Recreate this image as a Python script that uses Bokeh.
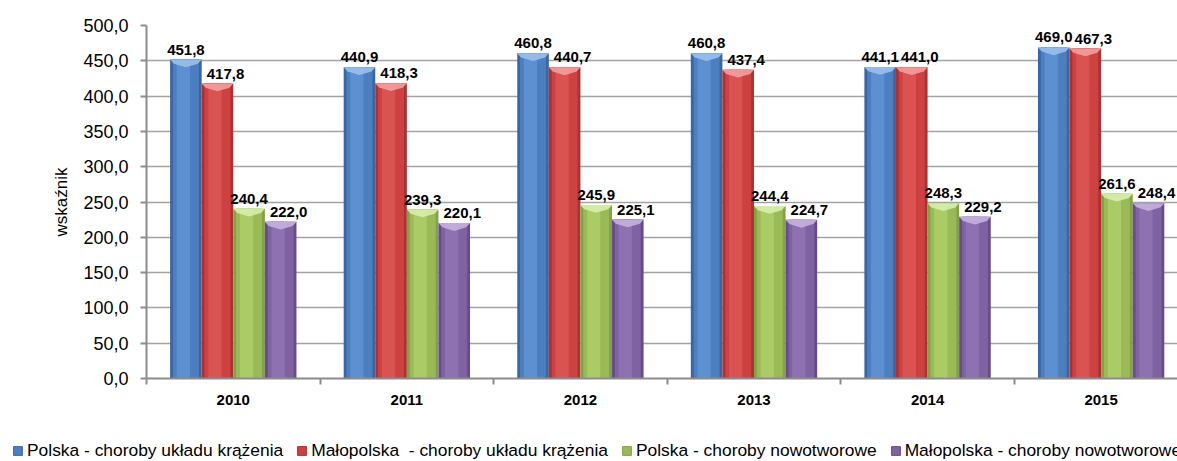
import numpy as np
from bokeh.plotting import figure
from bokeh.layouts import column
from bokeh.models import Range1d, FixedTicker, Legend, LegendItem, ColumnDataSource
from bokeh.core.properties import value
from bokeh.embed import file_html
from bokeh.resources import INLINE

# ---- data ----
years = ["2010", "2011", "2012", "2013", "2014", "2015"]
series_names = [
    "Polska - choroby układu krążenia",
    "Małopolska  - choroby układu krążenia",
    "Polska - choroby nowotworowe",
    "Małopolska - choroby nowotworowe",
]
polska_krazenia = [451.8, 440.9, 460.8, 460.8, 441.1, 469.0]
malopolska_krazenia = [417.8, 418.3, 440.7, 437.4, 441.0, 467.3]
polska_nowotwory = [240.4, 239.3, 245.9, 244.4, 248.3, 261.6]
malopolska_nowotwory = [222.0, 220.1, 225.1, 224.7, 229.2, 248.4]
y_ticks = [0, 50, 100, 150, 200, 250, 300, 350, 400, 450, 500]
y_label = "wskaźnik"

series_values = [polska_krazenia, malopolska_krazenia, polska_nowotwory, malopolska_nowotwory]

# ---- styles ----
palettes = [
    # dark edge, mid, light centre, top bevel
    ("#3A67A3", "#4C7FBF", "#5C90D0", "#9CC0EA"),
    ("#AE3030", "#CD4141", "#DA5353", "#F0A0A0"),
    ("#82A342", "#9ABA57", "#AACB66", "#D8EDAE"),
    ("#684B8C", "#7F62A1", "#8D71B1", "#C5B3DD"),
]
label_dx = [0, 8, 0, 8]
FONT = "Liberation Sans"

n = len(years)
centers = np.arange(n) + 0.5
bw = 0.182

p = figure(width=1177, height=431,
           x_range=Range1d(0, 5.94), y_range=Range1d(0, 500),
           output_backend="svg", toolbar_location=None,
           min_border_left=146, min_border_right=0,
           min_border_top=25, min_border_bottom=53)
p.title.visible = False
p.outline_line_color = None
p.background_fill_color = "white"
p.border_fill_color = "white"
p.frame_align = False

for i, vals in enumerate(series_values):
    dark, mid, light, top = palettes[i]
    xs = centers + (i - 1.5) * bw
    v = np.array(vals)
    src = ColumnDataSource(dict(x=xs, top=v,
                                lab=[f"{a:.1f}".replace(".", ",") for a in vals]))
    p.vbar(x="x", top="top", bottom=0, width=bw, source=src,
           fill_color=dark, line_color=None)
    p.vbar(x="x", top="top", bottom=0, width=bw * 0.82, source=src,
           fill_color=mid, line_color=None)
    src2 = ColumnDataSource(dict(x=xs - bw * 0.08, top=v))
    p.vbar(x="x", top="top", bottom=0, width=bw * 0.42, source=src2,
           fill_color=light, line_color=None)
    # top bevel (chevron)
    xsP = [[x - bw / 2, x + bw / 2, x + bw / 2 - bw * 0.12, x, x - bw / 2 + bw * 0.12]
           for x in xs]
    ysP = [[a, a, a - 6, a - 11, a - 6] for a in v]
    p.patches(xsP, ysP, fill_color=top, fill_alpha=0.9, line_color=None)
    p.text(x="x", y="top", text="lab", source=src,
           text_align="center", text_baseline="bottom",
           x_offset=label_dx[i], y_offset=-5,
           text_font=value(FONT), text_font_style="bold",
           text_font_size="15px", text_color="black")

# axes
xa = p.xaxis[0]
xa.ticker = FixedTicker(ticks=list(centers), minor_ticks=list(range(n + 1)))
xa.major_label_overrides = {float(c): y for c, y in zip(centers, years)}
xa.major_tick_line_color = None
xa.major_tick_out = 0
xa.major_tick_in = 0
xa.minor_tick_out = 6
xa.minor_tick_in = 0
xa.minor_tick_line_color = "#8C8C8C"
xa.minor_tick_line_width = 2
xa.axis_line_color = "#8C8C8C"
xa.axis_line_width = 2
xa.major_label_standoff = 10
xa.major_label_text_font = FONT
xa.major_label_text_font_style = "bold"
xa.major_label_text_font_size = "15px"
xa.major_label_text_color = "black"

ya = p.yaxis[0]
ya.ticker = FixedTicker(ticks=y_ticks, minor_ticks=[])
ya.major_label_overrides = {t: f"{t:.1f}".replace(".", ",") for t in y_ticks}
ya.major_tick_out = 6
ya.major_tick_in = 0
ya.major_tick_line_color = "#8C8C8C"
ya.major_tick_line_width = 2
ya.axis_line_color = "#8C8C8C"
ya.axis_line_width = 2
ya.major_label_standoff = 12
ya.major_label_text_font = FONT
ya.major_label_text_font_size = "18px"
ya.major_label_text_color = "black"
ya.axis_label = y_label
ya.axis_label_text_font = FONT
ya.axis_label_text_font_style = "normal"
ya.axis_label_text_font_size = "17px"
ya.axis_label_text_color = "black"
ya.axis_label_standoff = 9

p.xgrid.visible = False
p.ygrid.ticker = FixedTicker(ticks=y_ticks, minor_ticks=[])
p.ygrid.grid_line_color = "#A3A3A3"
p.ygrid.grid_line_width = 1.5

# ---- legend strip below ----
lp = figure(width=1177, height=30, x_range=Range1d(0, 1), y_range=Range1d(0, 1),
            x_axis_location=None, y_axis_location=None,
            output_backend="svg", toolbar_location=None,
            min_border_left=0, min_border_right=0, min_border_top=0, min_border_bottom=0)
lp.title.visible = False
lp.grid.visible = False
lp.outline_line_color = None
lp.border_fill_color = "white"
lp.frame_align = False

items = []
for i, name in enumerate(series_names):
    dark, mid, light, top = palettes[i]
    r = lp.vbar(x=[-5], top=[0], width=0.1, fill_color=mid, line_color=dark)
    items.append(LegendItem(label=name, renderers=[r]))

legend = Legend(items=items, location=(12, 0), orientation="horizontal",
                glyph_width=11, glyph_height=11, label_standoff=4, spacing=13,
                padding=0, margin=0, border_line_color=None,
                background_fill_alpha=0, label_height=20,
                label_text_font=FONT, label_text_font_size="17.4px",
                label_text_color="black")
lp.add_layout(legend)

open("out.html", "w").write(file_html(column(p, lp, spacing=0), INLINE))
